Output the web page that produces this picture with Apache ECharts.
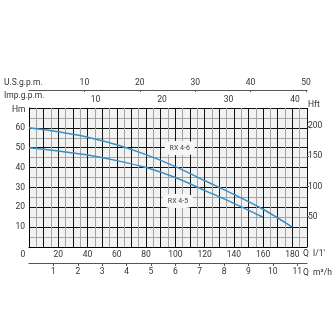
<!DOCTYPE html>
<html><head><meta charset="utf-8">
<script src="https://cdn.jsdelivr.net/npm/echarts@6/dist/echarts.min.js"></script>
<style>html,body{margin:0;padding:0;background:#fff}#c{width:336px;height:336px}</style>
</head><body><div id="c"></div>
<script>
// Flow (l/min) and head (m)
const rx46Flow = [0, 20, 40, 60, 80, 100, 120, 140, 160, 180];
const rx46Head = [60, 58, 55.3, 51.5, 46.5, 40.5, 33.5, 26.5, 19, 10];
const rx45Flow = [0, 20, 40, 60, 80, 100, 120, 140, 160];
const rx45Head = [50, 48.3, 46.3, 43.5, 40, 35, 28.5, 22, 15];
const seriesNames = ['RX 4-6', 'RX 4-5'];
const labelPos = [[103, 49.8], [101.8, 23.2]];
// tick labels
const qTicks = [0, 20, 40, 60, 80, 100, 120, 140, 160, 180];
const hmTicks = [10, 20, 30, 40, 50, 60];
const hftTicks = [50, 100, 150, 200];
const usTicks = [10, 20, 30, 40, 50];
const impTicks = [10, 20, 30, 40];
const m3hTicks = [1, 2, 3, 4, 5, 6, 7, 8, 9, 10, 11];

const Q_MAX = 190, H_MAX = 70;
const FONT = 'Roboto';
const FS = 8.5;
const TXT = '#333';
const BLUE = '#3a8fc3';

const pairs = (xs, ys) => xs.map((x, i) => [x, ys[i]]);
const chart = echarts.init(document.getElementById('c'), null, {renderer: 'canvas'});

const lbl = (arr, extra) => Object.assign({
  fontFamily: FONT, fontSize: FS, color: TXT,
  formatter: v => arr.some(t => Math.abs(t - v) < 1e-6) ? String(v) : ''
}, extra || {});

chart.setOption({
  animation: false,
  grid: {left: 29, right: 29, top: 108, bottom: 89, show: true, backgroundColor: '#f2f2f2', borderWidth: 0},
  xAxis: [
    { type: 'value', min: 0, max: Q_MAX, interval: 5, position: 'bottom',
      axisLine: {show: true, onZero: false, lineStyle: {color: '#000', width: 1}},
      axisTick: {show: false},
      axisLabel: {
        fontFamily: FONT, fontSize: FS, color: TXT, margin: 3,
        formatter: v => v === 0 ? '{z|0}' : (qTicks.includes(v) ? String(v) : ''),
        rich: {z: {fontFamily: FONT, fontSize: FS, color: TXT, padding: [0, 12, 0, 0]}}
      },
      splitLine: {show: true, lineStyle: {color: ['#111', '#a3a3a3'], width: 1}}
    },
    { type: 'value', min: 0, max: Q_MAX * 0.06, interval: 1, position: 'bottom', offset: 16,
      axisLine: {show: true, onZero: false, lineStyle: {color: '#555', width: 1.2}},
      axisTick: {show: true, inside: false, length: 3, customValues: m3hTicks, lineStyle: {color: '#555'}},
      axisLabel: lbl(m3hTicks, {margin: 4}),
      splitLine: {show: false}
    },
    { type: 'value', min: 0, max: Q_MAX / 3.785411784, interval: 10, position: 'top', offset: 18,
      axisLine: {show: true, onZero: false, lineStyle: {color: '#555', width: 1.2}},
      axisTick: {show: true, inside: true, length: 2, customValues: usTicks, lineStyle: {color: '#555'}},
      axisLabel: lbl(usTicks, {margin: 3}),
      splitLine: {show: false}
    },
    { type: 'value', min: 0, max: Q_MAX / 4.54609, interval: 10, position: 'top', offset: 0,
      axisLine: {show: false, onZero: false}, axisTick: {show: false},
      axisLabel: lbl(impTicks, {margin: 4}),
      splitLine: {show: false}
    }
  ],
  yAxis: [
    { type: 'value', min: 0, max: H_MAX, interval: 5, position: 'left',
      axisLine: {show: true, onZero: false, lineStyle: {color: '#000', width: 1}},
      axisTick: {show: false},
      axisLabel: lbl(hmTicks, {margin: 4}),
      splitLine: {show: true, lineStyle: {color: ['#111', '#a3a3a3'], width: 1}}
    },
    { type: 'value', min: 0, max: H_MAX / 0.3048, interval: 50, position: 'right',
      axisLine: {show: false, onZero: false},
      axisTick: {show: true, length: 2, customValues: hftTicks, lineStyle: {color: '#555'}},
      axisLabel: lbl(hftTicks, {margin: 1}),
      splitLine: {show: false}
    }
  ],
  series: [
    { name: seriesNames[0], type: 'line', xAxisIndex: 0, yAxisIndex: 0, smooth: 0.3, showSymbol: false,
      data: pairs(rx46Flow, rx46Head), lineStyle: {color: BLUE, width: 1.5},
      markPoint: { symbol: 'roundRect', symbolSize: [30, 14], itemStyle: {color: '#f7f7f7'},
        label: {show: true, formatter: seriesNames[0], fontFamily: FONT, fontSize: 7, color: '#444'},
        data: [{coord: labelPos[0]}] }
    },
    { name: seriesNames[1], type: 'line', xAxisIndex: 0, yAxisIndex: 0, smooth: 0.3, showSymbol: false,
      data: pairs(rx45Flow, rx45Head), lineStyle: {color: BLUE, width: 1.5},
      markPoint: { symbol: 'roundRect', symbolSize: [30, 14], itemStyle: {color: '#f7f7f7'},
        label: {show: true, formatter: seriesNames[1], fontFamily: FONT, fontSize: 7, color: '#444'},
        data: [{coord: labelPos[1]}] }
    }
  ],
  graphic: [
    {type: 'text', left: 4, top: 78, style: {text: 'U.S.g.p.m.', font: '8.5px Roboto', fill: TXT}},
    {type: 'text', left: 4, top: 91, style: {text: 'Imp.g.p.m.', font: '8.5px Roboto', fill: TXT}},
    {type: 'text', left: 12, top: 105, style: {text: 'Hm', font: '8.5px Roboto', fill: TXT}},
    {type: 'text', left: 308, top: 100, style: {text: 'Hft', font: '8.5px Roboto', fill: TXT}},
    {type: 'text', left: 303, top: 249, style: {text: "Q  l/1'", font: '8.5px Roboto', fill: TXT}},
    {type: 'text', left: 303, top: 268, style: {text: 'Q  m³/h', font: '8.5px Roboto', fill: TXT}}
  ]
});
</script></body></html>
